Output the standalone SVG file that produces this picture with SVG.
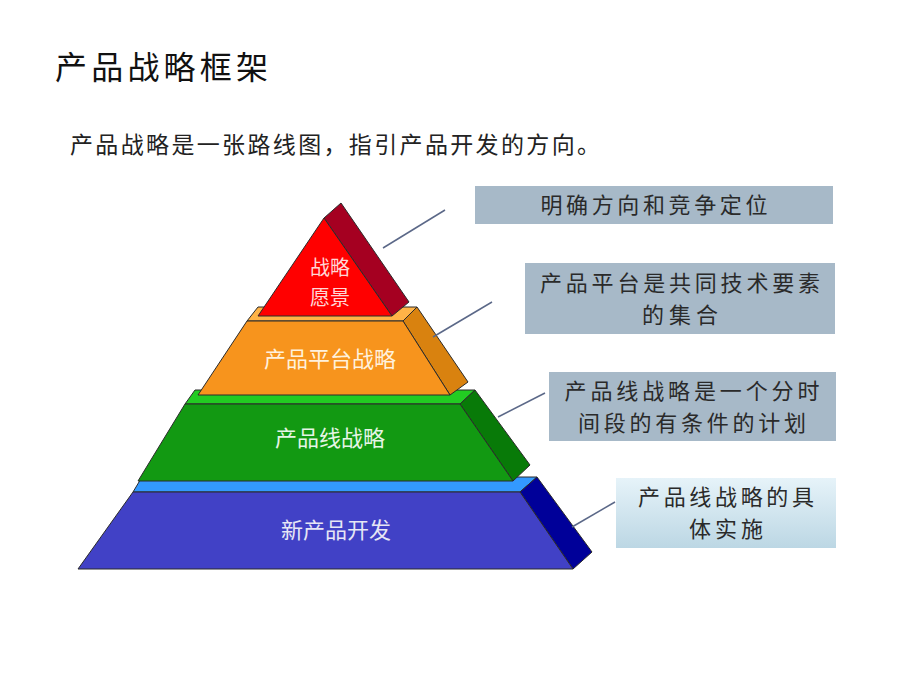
<svg xmlns="http://www.w3.org/2000/svg" width="920" height="690" viewBox="0 0 920 690">
<defs>
<style>
.t{font-family:"Noto Sans CJK SC","Noto Sans",sans-serif;}
.box{fill:#a7b9c8;}
.bt{font-family:"Noto Sans CJK SC","Noto Sans",sans-serif;font-size:22px;fill:#2a2a2a;text-anchor:middle;}
.pl{font-family:"Noto Sans CJK SC","Noto Sans",sans-serif;font-size:22px;text-anchor:middle;}
.edge{stroke:#2b2b2b;stroke-width:1;stroke-linejoin:round;}
.conn{stroke:#5b6888;stroke-width:1.5;fill:none;}
</style>
<linearGradient id="g4" x1="0" y1="0" x2="0" y2="1">
<stop offset="0" stop-color="#e6f3f9"/>
<stop offset="1" stop-color="#bcd7e4"/>
</linearGradient>
</defs>
<rect width="920" height="690" fill="#ffffff"/>
<g id="title">
<text class="t" x="55" y="79" font-size="32" fill="#111" textLength="213" lengthAdjust="spacing">产品战略框架</text>
</g>
<g id="subtitle">
<text class="t" x="70" y="153" font-size="23" fill="#222" textLength="530" lengthAdjust="spacing">产品战略是一张路线图，指引产品开发的方向。</text>
</g>

<g id="layer-blue">
<polygon class="edge" points="142,477 537,477 520,492 133,492" fill="#3399ff"/>
<polygon class="edge" points="520,492 537,477 592,552 573,569" fill="#000099"/>
<polygon class="edge" points="133,492 520,492 573,569 78,569" fill="#4141c6"/>
<text class="pl" x="336" y="538" fill="#e6e6f5">新产品开发</text>
</g>
<g id="layer-green">
<polygon class="edge" points="195,390 475,390 460,404 185,404" fill="#22cc22"/>
<polygon class="edge" points="460,404 475,390 530,465 513,481" fill="#087a08"/>
<polygon class="edge" points="185,404 460,404 513,481 138,481" fill="#129912"/>
<text class="pl" x="330" y="446" fill="#e6f5e6">产品线战略</text>
</g>
<g id="layer-orange">
<polygon class="edge" points="258,307 417,307 403,321 247,321" fill="#ffb347"/>
<polygon class="edge" points="403,321 417,307 468,382 450,395" fill="#d9820f"/>
<polygon class="edge" points="247,321 403,321 450,395 198,395" fill="#f7941d"/>
<text class="pl" x="330" y="367" fill="#fff1dc">产品平台战略</text>
</g>
<g id="layer-red">
<polygon class="edge" points="324,218 341,203 409,302 392,316" fill="#a50021"/>
<polygon class="edge" points="324,218 392,316 258,316" fill="#ff0000"/>
<text class="pl" x="330" y="275" style="font-size:20px" fill="#ffd6d6"><tspan x="330">战略</tspan><tspan x="330" dy="29.5">愿景</tspan></text>
</g>

<g id="connectors">
<line class="conn" x1="383" y1="248" x2="445" y2="210"/>
<line class="conn" x1="433" y1="337" x2="492" y2="302"/>
<line class="conn" x1="498" y1="417" x2="545" y2="393"/>
<line class="conn" x1="572" y1="527" x2="615" y2="502"/>
</g>

<g id="box1">
<rect class="box" x="475" y="186" width="358" height="38"/>
<text class="bt" x="654" y="213" textLength="227" lengthAdjust="spacing">明确方向和竞争定位</text>
</g>
<g id="box2">
<rect class="box" x="525" y="263" width="310" height="71"/>
<text class="bt" x="680" y="291"><tspan x="680" textLength="280" lengthAdjust="spacing">产品平台是共同技术要素</tspan><tspan x="680" dy="32" textLength="76" lengthAdjust="spacing">的集合</tspan></text>
</g>
<g id="box3">
<rect class="box" x="549" y="372" width="287" height="69"/>
<text class="bt" x="692" y="399"><tspan x="692" textLength="255" lengthAdjust="spacing">产品线战略是一个分时</tspan><tspan x="692" dy="32" textLength="228" lengthAdjust="spacing">间段的有条件的计划</tspan></text>
</g>
<g id="box4">
<rect x="616" y="478" width="220" height="70" fill="url(#g4)"/>
<text class="bt" x="726" y="505"><tspan x="726" textLength="176" lengthAdjust="spacing">产品线战略的具</tspan><tspan x="726" dy="32" textLength="74" lengthAdjust="spacing">体实施</tspan></text>
</g>
</svg>
